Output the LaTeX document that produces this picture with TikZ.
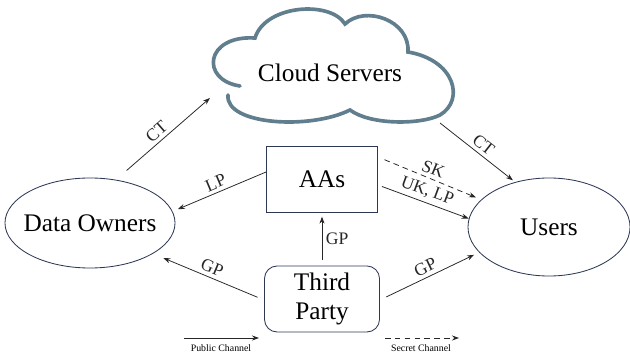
\documentclass[tikz,border=0pt]{standalone}
\usepackage{fontspec}
\setmainfont{Liberation Serif}
\usetikzlibrary{arrows.meta, calc, shapes.geometric}

\definecolor{cloudblue}{RGB}{96,126,142}
\definecolor{edgeblue}{RGB}{44,56,84}

\begin{document}
\begin{tikzpicture}[x=0.025cm, y=-0.025cm, >={Stealth[length=5pt,width=3.6pt]},
    ent/.style={draw=edgeblue, line width=0.6pt, font=\fontsize{18}{20}\selectfont, inner sep=0pt},
    lbl/.style={font=\fontsize{12.5}{14}\selectfont, inner sep=2.5pt},
    flow/.style={->, line width=0.55pt, black!85}]
    \useasboundingbox (0,0) rectangle (630,352);

    % Cloud outline (left lobe left open)
    \draw[cloudblue, line width=2.6pt, line cap=round]
        (240,86) .. controls (200,80) and (205,35) .. (255,38)
        .. controls (265,5) and (330,0) .. (345,24)
        .. controls (365,5) and (410,20) .. (408,52)
        .. controls (455,60) and (465,100) .. (440,115)
        .. controls (420,125) and (370,125) .. (350,110)
        .. controls (310,130) and (225,125) .. (228,95);

    % Nodes
    \node[font=\fontsize{18}{20}\selectfont] (cloud) at (330,73) {Cloud Servers};
    \node[ent, ellipse, inner xsep=-5pt, minimum width=4.25cm, minimum height=2.25cm] (do) at (90,223) {Data Owners};
    \node[ent, ellipse, minimum width=4.05cm, minimum height=2.45cm] (users) at (549,227) {Users};
    \node[ent, rectangle, minimum width=2.775cm, minimum height=1.65cm] (aas) at (322,179) {AAs};
    \node[ent, rectangle, rounded corners=9pt, align=center, minimum width=2.875cm, minimum height=1.65cm] (tp) at (322,299) {Third\\Party};

    % Arrow ends on the cloud
    \coordinate (cloud-w) at (210,98);
    \coordinate (cloud-se) at (440,123);

    % Channels
    \draw[flow, shorten <=10pt] (do.59) -- node[lbl, sloped, above] {CT} (cloud-w);
    \draw[flow, shorten >=4pt] ($(aas.west)+(0,-7)$) -- node[lbl, sloped, above] {LP} (do.8);
    \draw[flow, shorten >=2pt] (cloud-se) -- node[lbl, sloped, above] {CT} (users.127);
    \draw[flow, dash pattern=on 4pt off 3pt, shorten <=5pt, shorten >=4pt] ($(aas.east)+(0,-22)$) -- node[lbl, sloped, above] {SK} (users.158);
    \draw[flow, shorten <=3pt] ($(aas.east)+(0,6)$) -- node[lbl, sloped, above] {UK, LP} (users.174);
    \draw[flow, shorten <=4pt, shorten >=3pt] (tp) -- node[lbl, right] {GP} (aas);
    \draw[flow, shorten <=5pt, shorten >=8pt] ($(tp.west)+(0,1)$) -- node[lbl, sloped, above] {GP} (do.-26);
    \draw[flow, shorten <=5pt, shorten >=4pt] ($(tp.east)+(0,1)$) -- node[lbl, sloped, above] {GP} (users.-160);

    % Legend
    \node[font=\fontsize{7}{8}\selectfont] (pub) at (221,348) {Public Channel};
    \node[font=\fontsize{7}{8}\selectfont] (sec) at (421,348) {Secret Channel};
    \coordinate (pub-a) at (184,338);
    \coordinate (pub-b) at (259,338);
    \coordinate (sec-a) at (385,338);
    \coordinate (sec-b) at (459,338);
    \draw[flow] (pub-a) -- (pub-b);
    \draw[flow, dash pattern=on 4pt off 3pt] (sec-a) -- (sec-b);
\end{tikzpicture}
\end{document}
